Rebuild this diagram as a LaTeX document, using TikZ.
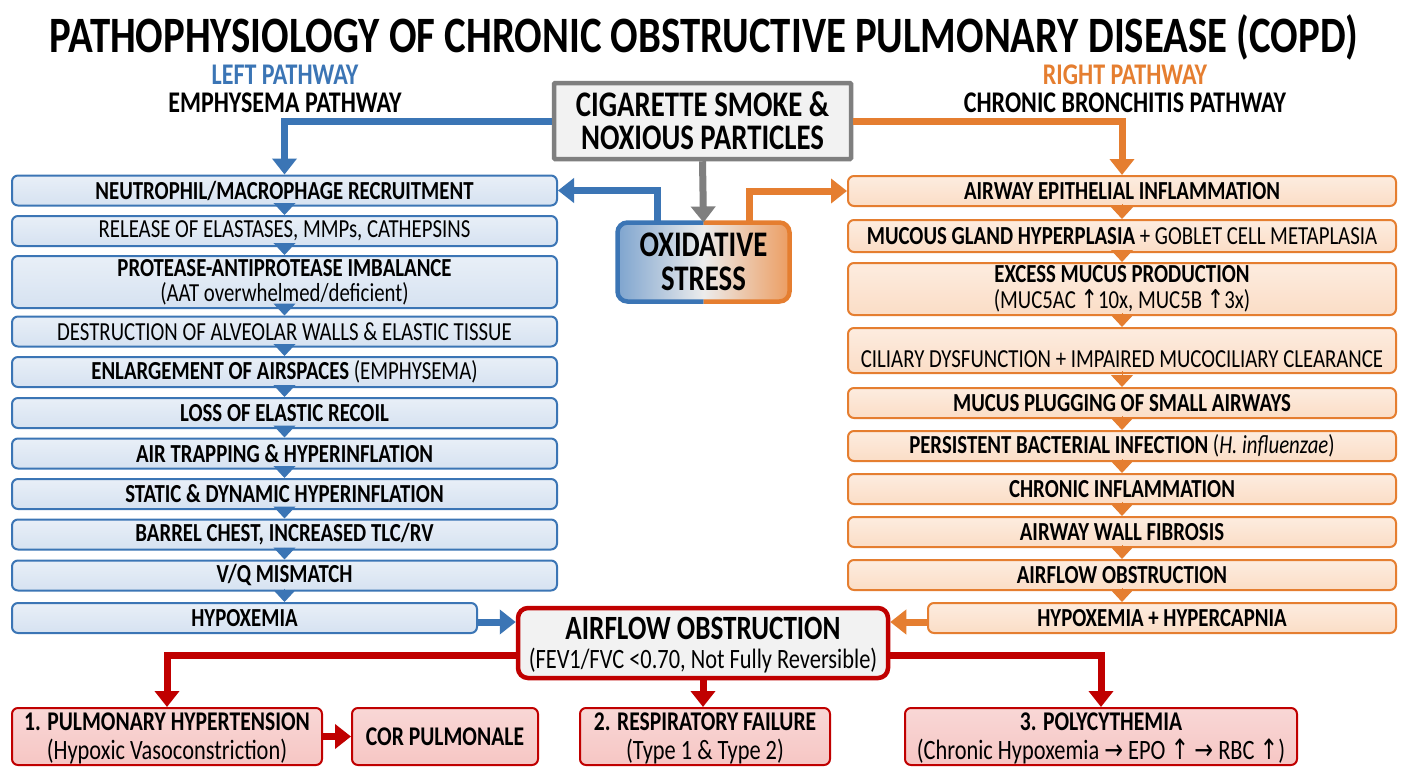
\documentclass[tikz,border=0pt]{standalone}
\usepackage{fontspec}
\setmainfont{Carlito}[FakeStretch=0.8]
\newfontfamily\sym{DejaVu Sans}[FakeStretch=0.8]
\usetikzlibrary{arrows.meta,calc}
\definecolor{bl}{HTML}{3B75B5}
\definecolor{blfill}{HTML}{D6E2F1}
\definecolor{orc}{HTML}{E57E30}
\definecolor{orfill}{HTML}{FBDDC6}
\definecolor{rd}{HTML}{C00000}
\definecolor{rdfill}{HTML}{F6C6C4}
\definecolor{grc}{HTML}{7F7F7F}
\definecolor{grfill}{HTML}{F2F2F2}
\tikzset{
  base/.style={rounded corners=6pt, line width=2pt, align=center, inner sep=0pt,
    font=\fontsize{26}{25}\selectfont},
  lbox/.style={base, draw=bl, top color=blfill!55!white, bottom color=blfill, minimum width=545pt, minimum height=30pt},
  rbox/.style={base, draw=orc, top color=orfill!55!white, bottom color=orfill, minimum width=548pt, minimum height=30pt},
  bbox/.style={base, draw=rd, top color=rdfill!70!white, bottom color=rdfill, minimum height=57pt, font=\fontsize{28}{29}\selectfont},
  barl/.style={draw=bl, line width=7pt, -{Triangle[width=24pt,length=16pt]}},
  baro/.style={draw=orc, line width=7pt, -{Triangle[width=24pt,length=16pt]}},
  barr/.style={draw=rd, line width=7pt, -{Triangle[width=24pt,length=16pt]}},
  barg/.style={draw=grc, line width=7pt, -{Triangle[width=24pt,length=16pt]}},
  chl/.style={draw=bl, line width=1pt, -{Triangle[width=22pt,length=12pt]}},
  cho/.style={draw=orc, line width=1pt, -{Triangle[width=22pt,length=12pt]}},
  hdr/.style={font=\fontsize{30}{28}\selectfont\bfseries, inner sep=0pt, align=center},
}
\begin{document}
\begin{tikzpicture}[x=1pt,y=-1pt]
\useasboundingbox[fill=white] (0,0) rectangle (1408,768);

% title
\node[font=\fontsize{51}{56}\selectfont\bfseries] (title) at (704,37) {PATHOPHYSIOLOGY OF CHRONIC OBSTRUCTIVE PULMONARY DISEASE (COPD)};

% headers
\node[hdr] (lh) at (285,89) {\textcolor{bl}{LEFT PATHWAY}\\EMPHYSEMA PATHWAY};
\node[hdr] (rh) at (1125,89) {\textcolor{orc}{RIGHT PATHWAY}\\CHRONIC BRONCHITIS PATHWAY};

% top source
\node[base, draw=grc, line width=4.5pt, rounded corners=1pt, fill=grfill, minimum width=297pt, minimum height=76pt,
  font=\fontsize{36}{33}\selectfont\bfseries] (cig) at (702.5,121) {CIGARETTE SMOKE \&\\NOXIOUS PARTICLES};

% oxidative stress
\node[base, draw=none, rounded corners=10pt, left color=bl!65!white, right color=orc!75!white, middle color=white!85!gray,
  minimum width=170pt, minimum height=77pt, font=\fontsize{36}{34}\selectfont\bfseries] (ox) at (703.5,262) {OXIDATIVE\\STRESS};
\begin{scope}
  \clip (ox.north west) ++(-10,-10) rectangle ($(ox.south)+(0,10)$);
  \draw[bl, line width=4.5pt, rounded corners=10pt] (ox.north west) rectangle (ox.south east);
\end{scope}
\begin{scope}
  \clip ($(ox.north)+(0,-10)$) rectangle ($(ox.south east)+(10,10)$);
  \draw[orc, line width=4.5pt, rounded corners=10pt] (ox.north west) rectangle (ox.south east);
\end{scope}

% left pathway
\node[lbox] (l1) at (284.5,190.5) {\textbf{NEUTROPHIL/MACROPHAGE RECRUITMENT}};
\node[lbox] (l2) at (284.5,231) {RELEASE OF ELASTASES, MMPs, CATHEPSINS};
\node[lbox, minimum height=52pt] (l3) at (284.5,282) {\textbf{PROTEASE-ANTIPROTEASE IMBALANCE}\\(AAT overwhelmed/deficient)};
\node[lbox] (l4) at (284.5,331.5) {DESTRUCTION OF ALVEOLAR WALLS \& ELASTIC TISSUE};
\node[lbox] (l5) at (284.5,372) {\textbf{ENLARGEMENT OF AIRSPACES} (EMPHYSEMA)};
\node[lbox] (l6) at (284.5,413) {\textbf{LOSS OF ELASTIC RECOIL}};
\node[lbox] (l7) at (284.5,453.5) {\textbf{AIR TRAPPING \& HYPERINFLATION}};
\node[lbox] (l8) at (284.5,494) {\textbf{STATIC \& DYNAMIC HYPERINFLATION}};
\node[lbox] (l9) at (284.5,534.5) {\textbf{BARREL CHEST, INCREASED TLC/RV}};
\node[lbox] (l10) at (284.5,575.5) {\textbf{V/Q MISMATCH}};
\node[lbox, minimum width=465pt] (l11) at (244.5,618) {\textbf{HYPOXEMIA}};

% right pathway
\node[rbox] (r1) at (1122,191) {\textbf{AIRWAY EPITHELIAL INFLAMMATION}};
\node[rbox, minimum height=32pt] (r2) at (1122,236) {\textbf{MUCOUS GLAND HYPERPLASIA} + GOBLET CELL METAPLASIA};
\node[rbox, minimum height=52pt] (r3) at (1122,289) {\textbf{EXCESS MUCUS PRODUCTION}\\[1pt](MUC5AC {\sym ↑}10x, MUC5B {\sym ↑}3x)};
\node[rbox, minimum height=45pt, text height=33pt, text depth=0pt] (r4) at (1122,350.5) {CILIARY DYSFUNCTION + IMPAIRED MUCOCILIARY CLEARANCE};
\node[rbox] (r5) at (1122,403) {\textbf{MUCUS PLUGGING OF SMALL AIRWAYS}};
\node[rbox] (r6) at (1122,446) {\textbf{PERSISTENT BACTERIAL INFECTION} (\textit{H. influenzae})};
\node[rbox] (r7) at (1122,489) {\textbf{CHRONIC INFLAMMATION}};
\node[rbox] (r8) at (1122,532) {\textbf{AIRWAY WALL FIBROSIS}};
\node[rbox] (r9) at (1122,575) {\textbf{AIRFLOW OBSTRUCTION}};
\node[rbox, minimum width=468pt] (r10) at (1162,618) {\textbf{HYPOXEMIA + HYPERCAPNIA}};

% central airflow obstruction
\node[base, draw=rd, line width=4.5pt, rounded corners=10pt, fill=grfill, minimum width=370pt, minimum height=70pt,
  font=\fontsize{28}{29}\selectfont, text depth=0pt] (af) at (703,643) {{\fontsize{34}{32}\selectfont\bfseries AIRFLOW OBSTRUCTION}\\(FEV1/FVC <0.70, Not Fully Reversible)};

% bottom complications
\node[bbox, minimum width=310pt, text depth=0pt] (b1) at (167,736.5) {\textbf{\fontsize{27}{28}\selectfont 1. PULMONARY HYPERTENSION}\\(Hypoxic Vasoconstriction)};
\node[bbox, minimum width=186pt] (b2) at (445,736.5) {\textbf{\fontsize{27}{28}\selectfont COR PULMONALE}};
\node[bbox, minimum width=250pt, text depth=0pt] (b3) at (705,736.5) {\textbf{\fontsize{27}{28}\selectfont 2. RESPIRATORY FAILURE}\\(Type 1 \& Type 2)};
\node[bbox, minimum width=392pt, text depth=0pt] (b4) at (1101,736.5) {\textbf{\fontsize{27}{28}\selectfont 3. POLYCYTHEMIA}\\(Chronic Hypoxemia {\sym →} EPO {\sym ↑} {\sym →} RBC {\sym ↑})};

% main connectors
\draw[barl] (cig.west) -| (l1.north);
\draw[baro] (cig.east) -| (r1.north);
\draw[barg] (cig.south) -- (ox.north);
\draw[barl] ($(ox.north)+(-46,-2)$) |- (l1.east);
\draw[baro] ($(ox.north)+(46,-2)$) |- (r1.west);

% chains
\foreach \a/\b in {l1/l2,l2/l3,l3/l4,l4/l5,l5/l6,l6/l7,l7/l8,l8/l9,l9/l10,l10/l11}
  \draw[chl] ($(\a.south)+(0,-3)$) -- (\a.south |- \b.north);
\foreach \a/\b in {r1/r2,r2/r3,r3/r4,r4/r5,r5/r6,r6/r7,r7/r8,r8/r9,r9/r10}
  \draw[cho] ($(\a.south)+(0,-3)$) -- (\a.south |- \b.north);

% into airflow obstruction
\draw[barl] ($(l11.east)+(0,4)$) -- ($(l11.east -| af.west)+(0,4)$);
\draw[baro] ($(r10.west)+(0,4)$) -- ($(r10.west -| af.east)+(0,4)$);

% complications
\draw[barr] ($(af.west)+(0,12)$) -| (b1.north);
\draw[barr] (af.south) -- (af.south |- b3.north);
\draw[barr] ($(af.east)+(0,12)$) -| (b4.north);
\draw[barr] (b1.east) -- (b2.west);
\end{tikzpicture}
\end{document}
